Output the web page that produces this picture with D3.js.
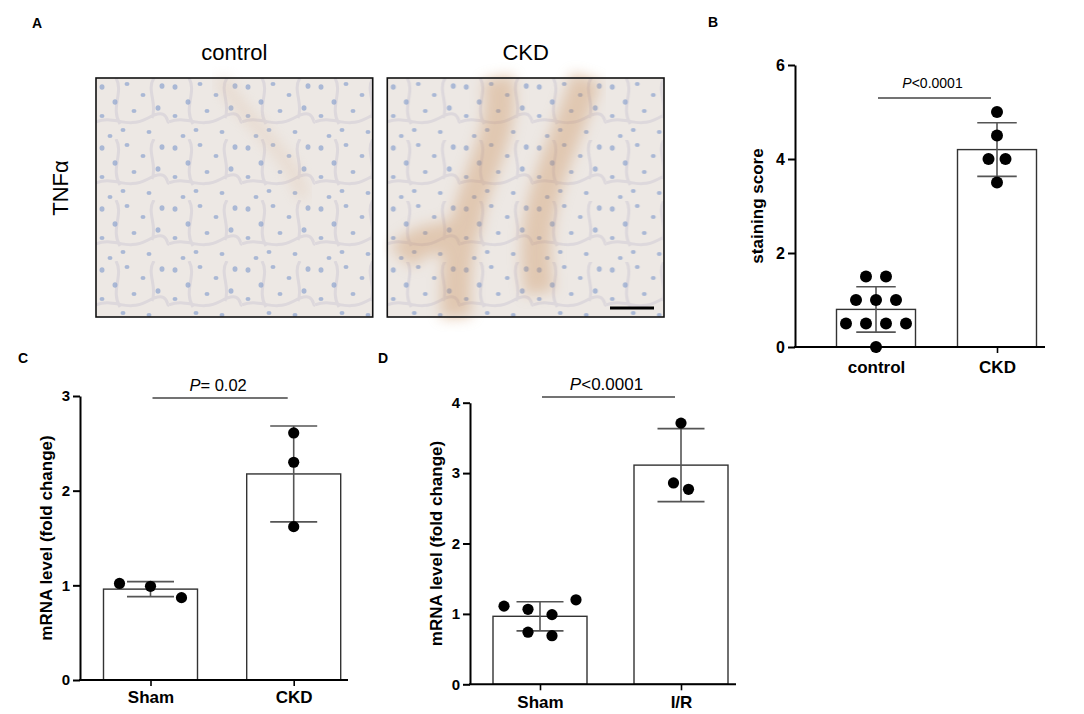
<!DOCTYPE html>
<html>
<head>
<meta charset="utf-8">
<script src="https://cdn.jsdelivr.net/npm/d3@7"></script>
<style>
  body { margin: 0; background: #fff; }
  text { font-family: "Liberation Sans", Arial, sans-serif; }
</style>
</head>
<body>
<svg id="fig" width="1084" height="714"></svg>
<script>
// values
const photoTitles = ["control", "CKD"];
const stainLabel = "TNFα";

const bGroups = ["control", "CKD"];
const bControl = [1.5, 1.5, 1, 1, 1, 0.5, 0.5, 0.5, 0.5, 0];
const bCkd = [5, 4.5, 4, 4, 3.5];
const bTicks = [0, 2, 4, 6];

const cGroups = ["Sham", "CKD"];
const cSham = [1.02, 0.99, 0.87];
const cCkd = [2.61, 2.30, 1.62];
const cTicks = [0, 1, 2, 3];

const dGroups = ["Sham", "I/R"];
const dSham = [1.11, 1.065, 0.99, 1.20, 0.74, 0.69];
const dIr = [3.71, 2.86, 2.77];
const dTicks = [0, 1, 2, 3, 4];

const pTexts = ["<0.0001", "= 0.02", "<0.0001"];
const sigLevels = [5.3, 2.98, 4.08];

const svg = d3.select("#fig");

// ---- panel A : the two stained sections (only a rough stand-in) ----
const defs = svg.append("defs");
const pat = defs.append("pattern")
  .attr("id", "tissue")
  .attr("patternUnits", "userSpaceOnUse")
  .attr("width", 73).attr("height", 61);
pat.append("rect").attr("width", 73).attr("height", 61).attr("fill", "#ede8e4");
pat.append("path")
  .attr("d", "M0,44 C18,36 30,52 52,40 S70,46 73,44 M20,0 C28,14 14,30 24,46 M58,0 C50,12 62,26 56,40")
  .attr("fill", "none").attr("stroke", "#ddd8dc").attr("stroke-width", 3);
[[6, 9], [31, 6], [47, 17], [19, 24], [38, 33], [6, 38], [62, 30], [27, 52], [53, 54], [66, 8], [14, 58]]
  .forEach(([cx, cy], i) => {
    pat.append("ellipse")
      .attr("cx", cx).attr("cy", cy)
      .attr("rx", 2.5).attr("ry", i % 3 ? 2.1 : 2.8)
      .attr("fill", "#8ea4cf").attr("opacity", 0.7);
  });
defs.append("filter").attr("id", "blur")
  .append("feGaussianBlur").attr("stdDeviation", 7);

const photoX = d3.scaleBand().domain(photoTitles).range([96, 664]).paddingInner(0.05);
const photoTop = 78, photoH = 239;

photoTitles.forEach(t => {
  const g = svg.append("g").attr("transform", `translate(${photoX(t)},${photoTop})`);
  const w = photoX.bandwidth();
  g.append("rect").attr("width", w).attr("height", photoH).attr("fill", "url(#tissue)");
  if (t === "CKD") {
    g.append("path")
      .attr("d", `M${w*0.25},${photoH} C${w*0.22},${photoH*0.5} ${w*0.45},${photoH*0.3} ${w*0.4},0
                  M${w*0.55},${photoH*0.9} C${w*0.5},${photoH*0.55} ${w*0.62},${photoH*0.35} ${w*0.72},0
                  M${w*0.05},${photoH*0.75} C${w*0.15},${photoH*0.62} ${w*0.25},${photoH*0.72} ${w*0.3},${photoH*0.58}`)
      .attr("fill", "none").attr("stroke", "#c98b52").attr("stroke-width", 30)
      .attr("opacity", 0.5).attr("filter", "url(#blur)");
    g.append("rect").attr("width", w).attr("height", photoH).attr("fill", "url(#tissue)").attr("opacity", 0.3);
    g.append("line")
      .attr("x1", w - 54).attr("x2", w - 10)
      .attr("y1", photoH - 9).attr("y2", photoH - 9)
      .attr("stroke", "#000").attr("stroke-width", 3);
  } else {
    g.append("path")
      .attr("d", `M${w*0.45},0 C${w*0.55},${photoH*0.2} ${w*0.7},${photoH*0.3} ${w*0.75},${photoH*0.5}`)
      .attr("fill", "none").attr("stroke", "#d9b79a").attr("stroke-width", 12)
      .attr("opacity", 0.3).attr("filter", "url(#blur)");
  }
  g.append("rect").attr("width", w).attr("height", photoH)
    .attr("fill", "none").attr("stroke", "#111").attr("stroke-width", 1.6);
  svg.append("text")
    .attr("x", photoX(t) + w / 2).attr("y", 60)
    .attr("text-anchor", "middle").attr("font-size", 22)
    .text(t);
});

svg.append("text")
  .attr("transform", "translate(68,188) rotate(-90)")
  .attr("text-anchor", "middle").attr("font-size", 22)
  .text(stainLabel);

// panel letters
[["A", 32, 28], ["B", 708, 27], ["C", 18, 363], ["D", 378, 363]].forEach(([l, x, y]) => {
  svg.append("text").attr("x", x).attr("y", y)
    .attr("font-size", 14).attr("font-weight", "bold").text(l);
});

// ---- bar + scatter panels ----
const panels = [
  { groups: bGroups, series: [bControl, bCkd], ticks: bTicks, yLabel: "staining score",
    p: pTexts[0], sig: sigLevels[0],
    axisX: 795, yTop: 65, yBottom: 347, centers: [876, 997], barW: 79, axisEnd: 1045,
    spread: [20, 17], r: 6, tickFont: 16, pFont: 14, pGap: 10, labelPad: 8, titleX: 763 },
  { groups: cGroups, series: [cSham, cCkd], ticks: cTicks, yLabel: "mRNA level (fold change)",
    p: pTexts[1], sig: sigLevels[1],
    axisX: 80, yTop: 396, yBottom: 680, centers: [150.5, 293.7], barW: 94, axisEnd: 348,
    spread: [31, 20], r: 5.6, tickFont: 15, pFont: 16.5, pGap: 7, labelPad: 5, titleX: 51.5 },
  { groups: dGroups, series: [dSham, dIr], ticks: dTicks, yLabel: "mRNA level (fold change)",
    p: pTexts[2], sig: sigLevels[2],
    axisX: 470, yTop: 402.7, yBottom: 684.3, centers: [540, 681], barW: 94, axisEnd: 736,
    spread: [24, 15], r: 5.6, tickFont: 15, pFont: 17, pGap: 7, labelPad: 6, titleX: 441.5 }
];

// spread points that sit at (nearly) the same height into centred rows
function rowOffsets(values, y, spacing) {
  const order = d3.range(values.length).sort((a, b) => values[b] - values[a]);
  const rows = [];
  order.forEach((i, k) => {
    if (k > 0 && Math.abs(y(values[order[k - 1]]) - y(values[i])) < 14) rows[rows.length - 1].push(i);
    else rows.push([i]);
  });
  const off = new Array(values.length).fill(0);
  rows.forEach(row => {
    row.sort((a, b) => a - b);
    row.forEach((i, k) => { off[i] = (k - (row.length - 1) / 2) * spacing; });
  });
  return off;
}

panels.forEach(c => {
  const g = svg.append("g");
  const y = d3.scaleLinear().domain([0, d3.max(c.ticks)]).range([c.yBottom, c.yTop]);
  const x = d3.scalePoint().domain(c.groups).range(c.centers);

  const stats = c.groups.map((grp, i) => ({
    grp, vals: c.series[i],
    mean: d3.mean(c.series[i]), sd: d3.deviation(c.series[i])
  }));

  // bars
  g.selectAll("rect.bar").data(stats).join("rect")
    .attr("class", "bar")
    .attr("x", d => x(d.grp) - c.barW / 2)
    .attr("width", c.barW)
    .attr("y", d => y(d.mean))
    .attr("height", d => y(0) - y(d.mean))
    .attr("fill", "#fff").attr("stroke", "#333").attr("stroke-width", 1.4);

  // error bars (mean ± SD)
  const eb = g.selectAll("g.eb").data(stats).join("g").attr("class", "eb")
    .attr("stroke", "#555").attr("stroke-width", 1.6);
  eb.append("line")
    .attr("x1", d => x(d.grp)).attr("x2", d => x(d.grp))
    .attr("y1", d => y(d.mean + d.sd)).attr("y2", d => y(d.mean - d.sd));
  [1, -1].forEach(s => {
    eb.append("line")
      .attr("x1", d => x(d.grp) - c.barW / 4).attr("x2", d => x(d.grp) + c.barW / 4)
      .attr("y1", d => y(d.mean + s * d.sd)).attr("y2", d => y(d.mean + s * d.sd));
  });

  // points
  stats.forEach((d, i) => {
    const off = rowOffsets(d.vals, y, c.spread[i]);
    g.selectAll(null).data(d.vals).join("circle")
      .attr("cx", (v, j) => x(d.grp) + off[j])
      .attr("cy", v => y(v))
      .attr("r", c.r).attr("fill", "#000");
  });

  // y axis
  const ya = g.append("g")
    .attr("transform", `translate(${c.axisX},0)`)
    .call(d3.axisLeft(y).tickValues(c.ticks).tickSize(7).tickSizeOuter(0).tickPadding(3).tickFormat(d3.format("d")));
  ya.select(".domain").attr("stroke", "#000").attr("stroke-width", 2);
  ya.selectAll(".tick line").attr("stroke", "#000").attr("stroke-width", 2);
  ya.selectAll(".tick text")
    .attr("font-size", c.tickFont).attr("font-weight", "bold").attr("fill", "#000")
    .attr("font-family", "'Liberation Sans', Arial, sans-serif");

  // x axis
  const xa = g.append("g")
    .attr("transform", `translate(0,${c.yBottom})`)
    .call(d3.axisBottom(x).tickSize(6).tickPadding(c.labelPad));
  xa.select(".domain").remove();
  xa.append("line")
    .attr("x1", c.axisX - 1).attr("x2", c.axisEnd)
    .attr("stroke", "#000").attr("stroke-width", 2);
  xa.selectAll(".tick line").attr("stroke", "#000").attr("stroke-width", 1.6);
  xa.selectAll(".tick text")
    .attr("font-size", 17).attr("font-weight", "bold").attr("fill", "#000")
    .attr("font-family", "'Liberation Sans', Arial, sans-serif");

  // y title
  g.append("text")
    .attr("transform", `translate(${c.titleX},${(c.yTop + c.yBottom) / 2}) rotate(-90)`)
    .attr("text-anchor", "middle")
    .attr("font-size", 17).attr("font-weight", "bold")
    .text(c.yLabel);

  // significance bar
  const x1 = x(c.groups[0]) + 2, x2 = x(c.groups[1]) - 6;
  g.append("line")
    .attr("x1", x1).attr("x2", x2)
    .attr("y1", y(c.sig)).attr("y2", y(c.sig))
    .attr("stroke", "#444").attr("stroke-width", 1.5);
  const pt = g.append("text")
    .attr("x", (x1 + x2) / 2 - 2).attr("y", y(c.sig) - c.pGap)
    .attr("text-anchor", "middle").attr("font-size", c.pFont);
  pt.append("tspan").attr("font-style", "italic").text("P");
  pt.append("tspan").text(c.p);
});
</script>
</body>
</html>
